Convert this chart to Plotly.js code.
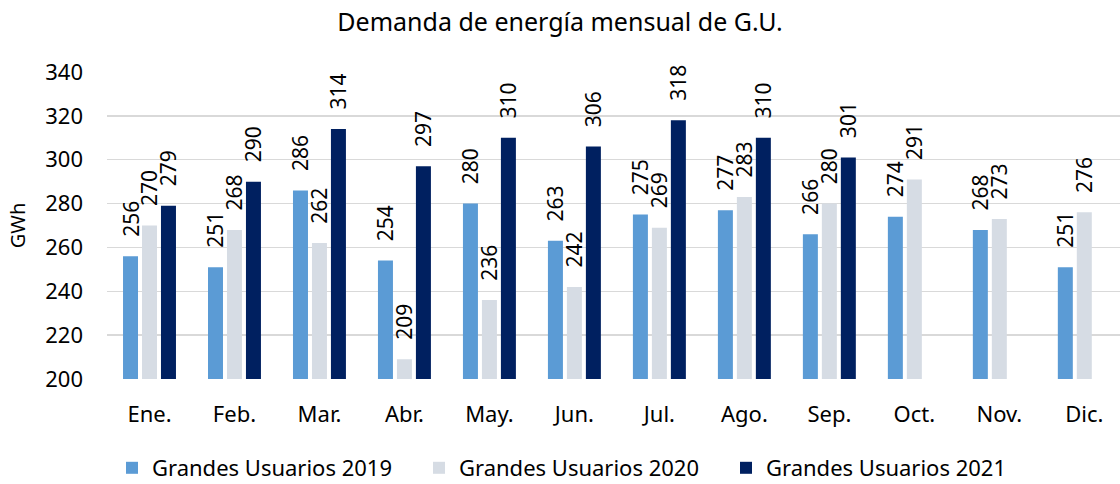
<!DOCTYPE html>
<html>
<head>
<meta charset="utf-8">
<script src="https://cdn.plot.ly/plotly-3.0.1.min.js"></script>
<style>body{margin:0;background:#fff}#chart{width:1120px;height:484px}</style>
</head>
<body>
<div id="chart"></div>
<script>
const months = ["Ene.","Feb.","Mar.","Abr.","May.","Jun.","Jul.","Ago.","Sep.","Oct.","Nov.","Dic."];
const gu2019 = [256,251,286,254,280,263,275,277,266,274,268,251];
const gu2020 = [270,268,262,209,236,242,269,283,280,291,273,276];
const gu2021 = [279,290,314,297,310,306,318,310,301,null,null,null];
const seriesNames = ["Grandes Usuarios 2019","Grandes Usuarios 2020","Grandes Usuarios 2021"];
const colors = ["#5B9BD5","#D6DCE4","#002060"];
const FONT = "Noto Sans, sans-serif";
const PAD = "\u00a0\u00a0\u00a0";

function mk(vals, i){
  return {
    type:"bar", x:months, y:vals, name:seriesNames[i],
    marker:{color:colors[i]},
    text: vals.map(v => v==null ? "" : PAD + String(v)),
    textposition:"outside", textangle:-90,
    constraintext:"none", cliponaxis:false,
    textfont:{family:FONT,size:21,color:"#000"},
    hoverinfo:"skip"
  };
}
const data = [mk(gu2019,0), mk(gu2020,1), mk(gu2021,2)];
const layout = {
  width:1120, height:484,
  margin:{l:107,r:0,t:72,b:105},
  paper_bgcolor:"#fff", plot_bgcolor:"#fff",
  title:{text:"Demanda de energía mensual de G.U.", font:{family:FONT,size:25,color:"#000"}, x:0.5, xanchor:"center", y:0.955, yanchor:"middle"},
  barmode:"group", bargap:0.33, bargroupgap:0.21,
  xaxis:{range:[-0.5,11.42], tickfont:{family:FONT,size:22,color:"#000"}, showline:false, ticks:"", ticklabelstandoff:20},
  yaxis:{range:[200,340], dtick:20, tickfont:{family:FONT,size:22,color:"#000"},
         gridcolor:"#D9D9D9", gridwidth:1.5, zeroline:false, showline:false, ticks:"", ticklen:0, ticklabelstandoff:23,
         title:{text:"GWh", font:{family:FONT,size:20,color:"#000"}, standoff:14}},
  showlegend:true,
  legend:{orientation:"h", xref:"container", yref:"container", x:112/1120, xanchor:"left", y:16/484, yanchor:"middle",
          font:{family:FONT,size:22,color:"#000"}, traceorder:"normal", itemwidth:30,
          entrywidth:262, entrywidthmode:"pixels"}
};
Plotly.newPlot("chart", data, layout, {displayModeBar:false, staticPlot:true});
</script>
</body>
</html>
